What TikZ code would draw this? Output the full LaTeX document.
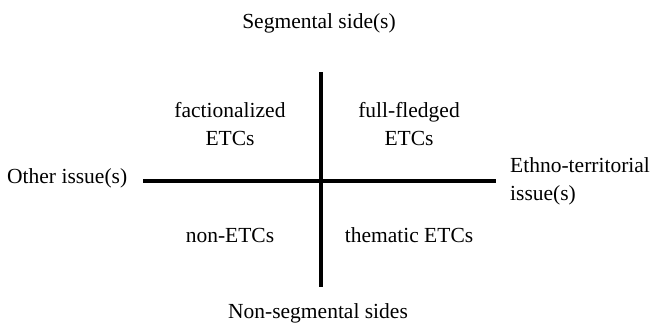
\documentclass[tikz,border=0pt]{standalone}
\usepackage{fontspec}
\setmainfont{Liberation Serif}
\begin{document}
\begin{tikzpicture}[x=1pt,y=1pt,
  lbl/.style={inner sep=0pt,font=\fontsize{21.5}{28}\selectfont},
  axis/.style={line width=4pt,black}]
\useasboundingbox (0,0) rectangle (650,327);
\coordinate (vtop) at (321,254.5);
\coordinate (vbot) at (321,40);
\coordinate (hl) at (143,146.5);
\coordinate (hr) at (496,146.5);
\draw[axis] (vtop) -- (vbot);
\draw[axis] (hl) -- (hr);
\node[lbl,anchor=base] (seg) at (319,298) {Segmental side(s)};
\node[lbl,anchor=base] (nonseg) at (318,9) {Non-segmental sides};
\node[lbl,anchor=base west] (other) at (7,143) {Other issue(s)};
\node[lbl,anchor=base west,align=left] (ethno) at (510,127) {Ethno-territorial\\issue(s)};
\node[lbl,anchor=base,align=center] (fact) at (230,182) {factionalized\\ETCs};
\node[lbl,anchor=base,align=center] (full) at (409,182) {full-fledged\\ETCs};
\node[lbl,anchor=base] (non) at (230,85) {non-ETCs};
\node[lbl,anchor=base] (them) at (409,85) {thematic ETCs};
\end{tikzpicture}
\end{document}
